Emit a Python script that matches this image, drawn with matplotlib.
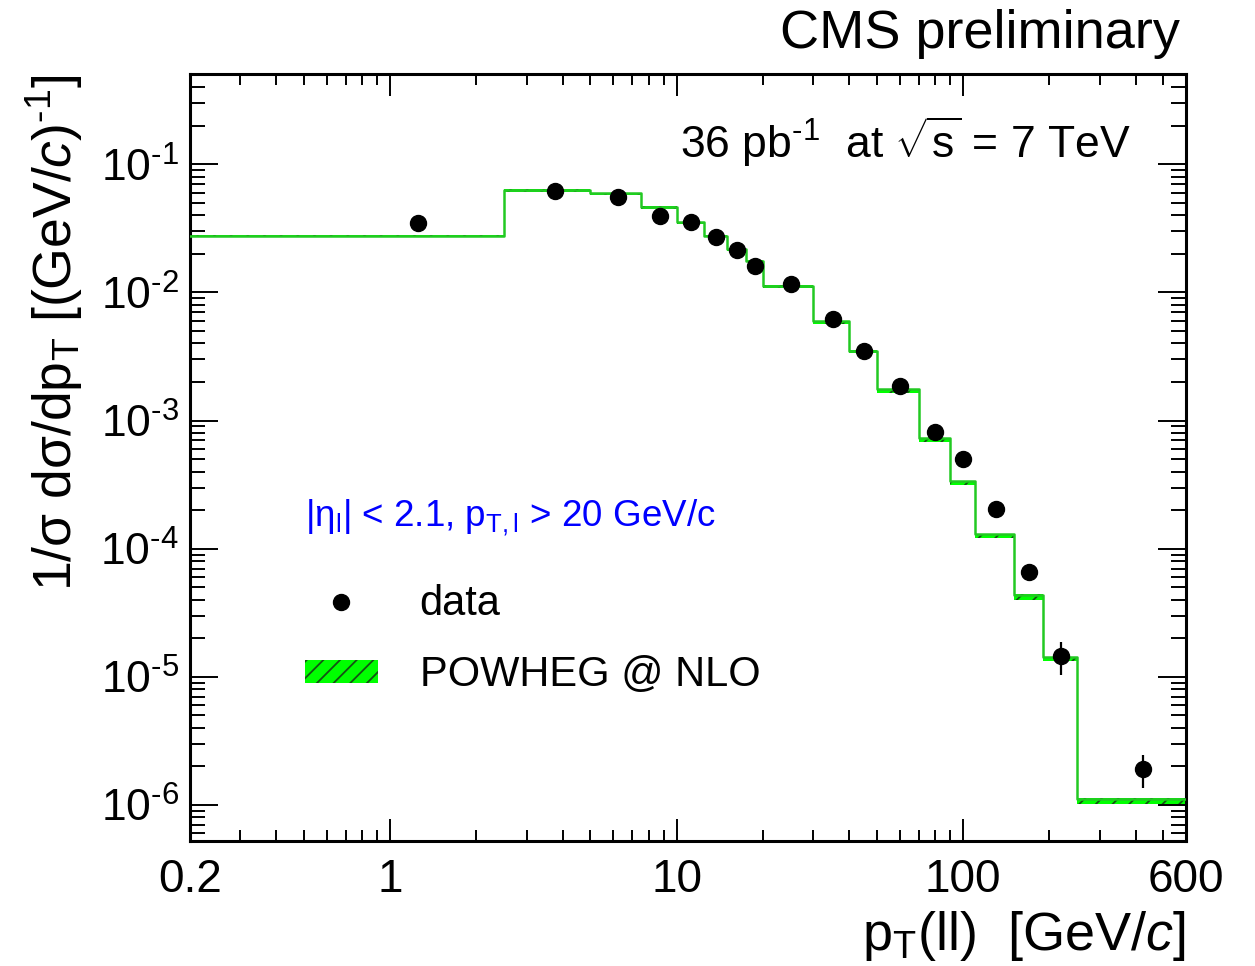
import matplotlib
matplotlib.use("Agg")
import matplotlib.pyplot as plt
from matplotlib.lines import Line2D
from matplotlib.patches import Patch
from matplotlib.ticker import FixedLocator, FixedFormatter, NullFormatter
import numpy as np

plt.rcParams["font.family"] = ["Liberation Sans", "DejaVu Sans"]
plt.rcParams["mathtext.fontset"] = "custom"
plt.rcParams["mathtext.rm"] = "Liberation Sans"
plt.rcParams["mathtext.it"] = "Liberation Sans:italic"
plt.rcParams["mathtext.bf"] = "Liberation Sans:bold"
plt.rcParams["hatch.linewidth"] = 1.3

# binning of the pT(ll) spectrum [GeV/c]
bin_edges = [0, 2.5, 5, 7.5, 10, 12.5, 15, 17.5, 20, 30, 40, 50, 70, 90, 110, 150, 190, 250, 600]

# POWHEG @ NLO prediction per bin, and relative depth of its hatched band
powheg = [0.0277, 0.063, 0.0596, 0.0466, 0.0352, 0.0277, 0.0218, 0.0177, 0.0113,
          0.00598, 0.00352, 0.00175, 7.3e-4, 3.36e-4, 1.30e-4, 4.39e-5, 1.42e-5, 1.12e-6]
powheg_band = [0.03, 0.03, 0.03, 0.03, 0.03, 0.03, 0.03, 0.03, 0.04,
               0.05, 0.05, 0.06, 0.07, 0.07, 0.07, 0.09, 0.06, 0.09]

# data points (bin centres)
data_x = [1.25, 3.75, 6.25, 8.75, 11.25, 13.75, 16.25, 18.75, 25, 35, 45, 60, 80, 100, 130, 170, 220, 425]
data_y = [0.0347, 0.0617, 0.0557, 0.0396, 0.0356, 0.0269, 0.0214, 0.0162, 0.0116, 0.00617,
          0.0035, 0.00187, 8.1e-4, 5.0e-4, 2.04e-4, 6.6e-5, 1.46e-5, 1.9e-6]
data_err = [0.0006, 0.0009, 0.0008, 0.0006, 0.0006, 0.0005, 0.0004, 0.0003, 0.0002, 0.00012,
            0.00008, 0.00005, 2.5e-5, 2.0e-5, 1.0e-5, 1.0e-5, 0.42e-5, 0.55e-6]

x_ticks = [0.2, 1, 10, 100, 600]
x_ticklabels = ["0.2", "1", "10", "100", "600"]
y_ticks = [1e-6, 1e-5, 1e-4, 1e-3, 1e-2, 1e-1]
y_ticklabels = [r"$10^{\text{-}%d}$" % k for k in [6, 5, 4, 3, 2, 1]]

W, H = 1255, 966
fig = plt.figure(figsize=(W / 100, H / 100), dpi=100)
ax = fig.add_axes([190 / W, 1 - 841 / H, (1186 - 190) / W, (841 - 74) / H])

vals = np.array(powheg + [powheg[-1]])
band = np.array(powheg_band + [powheg_band[-1]])

ax.fill_between(bin_edges, vals * (1 - band), vals * 1.01, step="post",
                facecolor="#00ff00", edgecolor="#145214", hatch="//", linewidth=0, zorder=2)
ax.plot(bin_edges, vals, drawstyle="steps-post", color="#22c922", lw=1.8, zorder=3)
ax.errorbar(data_x, data_y, yerr=data_err, fmt="o", color="black", ms=11.5,
            elinewidth=1.6, capsize=0, zorder=4)

ax.set_xscale("log")
ax.set_yscale("log")
ax.set_xlim(0.2, 600)
ax.set_ylim(5.24e-7, 0.507)

x_minor = [0.3, 0.4, 0.5, 0.6, 0.7, 0.8, 0.9, 2, 3, 4, 5, 6, 7, 8, 9,
           20, 30, 40, 50, 60, 70, 80, 90, 200, 300, 400, 500]
ax.xaxis.set_major_locator(FixedLocator(x_ticks))
ax.xaxis.set_major_formatter(FixedFormatter(x_ticklabels))
ax.xaxis.set_minor_locator(FixedLocator(x_minor))
ax.xaxis.set_minor_formatter(NullFormatter())
y_minor = [m * 10.0 ** e for e in range(-7, 0) for m in range(2, 10)]
ax.yaxis.set_major_locator(FixedLocator(y_ticks))
ax.yaxis.set_major_formatter(FixedFormatter(y_ticklabels))
ax.yaxis.set_minor_locator(FixedLocator(y_minor))
ax.yaxis.set_minor_formatter(NullFormatter())

ax.tick_params(which="both", direction="in", top=True, right=True, width=1.4, color="black")
ax.tick_params(axis="x", which="major", length=16, labelsize=33, pad=12)
ax.tick_params(axis="x", which="minor", length=8)
ax.tick_params(axis="y", which="major", length=20, labelsize=32, pad=8)
ax.tick_params(axis="y", which="minor", length=11)
for s in ax.spines.values():
    s.set_linewidth(2.2)

# axis titles
fig.text(1186 / W, 1 - 950 / H, r"p$_{\mathrm{T}}$(ll)  [GeV/$c$]", fontsize=39,
         ha="right", va="baseline")
fig.text(72 / W, 1 - 74 / H, r"1/σ dσ/dp$_{\mathrm{T}}$ [(GeV/$c$)$^{\text{-}1}$]",
         fontsize=38.5, rotation=90, rotation_mode="anchor", ha="right", va="baseline")

fig.text(1180 / W, 1 - 48 / H, "CMS preliminary", fontsize=39, ha="right", va="baseline")
fig.text(680 / W, 1 - 158 / H, r"36 pb$^{\text{-}1}$  at $\sqrt{\mathrm{s}}$ = 7 TeV",
         fontsize=32, ha="left", va="baseline")
fig.text(305 / W, 1 - 527 / H, r"|η$_{\mathrm{l}}$| < 2.1, p$_{\mathrm{T,l}}$ > 20 GeV/c",
         fontsize=26.5, color="#0000ff", ha="left", va="baseline")

handles = [Line2D([], [], marker="o", color="black", ls="none", ms=11.5),
           Patch(facecolor="#00ff00", edgecolor="#145214", hatch="//", linewidth=0)]
ax.legend(handles, ["data", "POWHEG @ NLO"], loc="upper left",
          bbox_to_anchor=(305 / W, 1 - 584 / H), bbox_transform=fig.transFigure,
          frameon=False, fontsize=30, handlelength=1.75, handleheight=0.45,
          handletextpad=1.0, labelspacing=0.75, borderpad=0, borderaxespad=0)

fig.savefig("out.png", dpi=100)
